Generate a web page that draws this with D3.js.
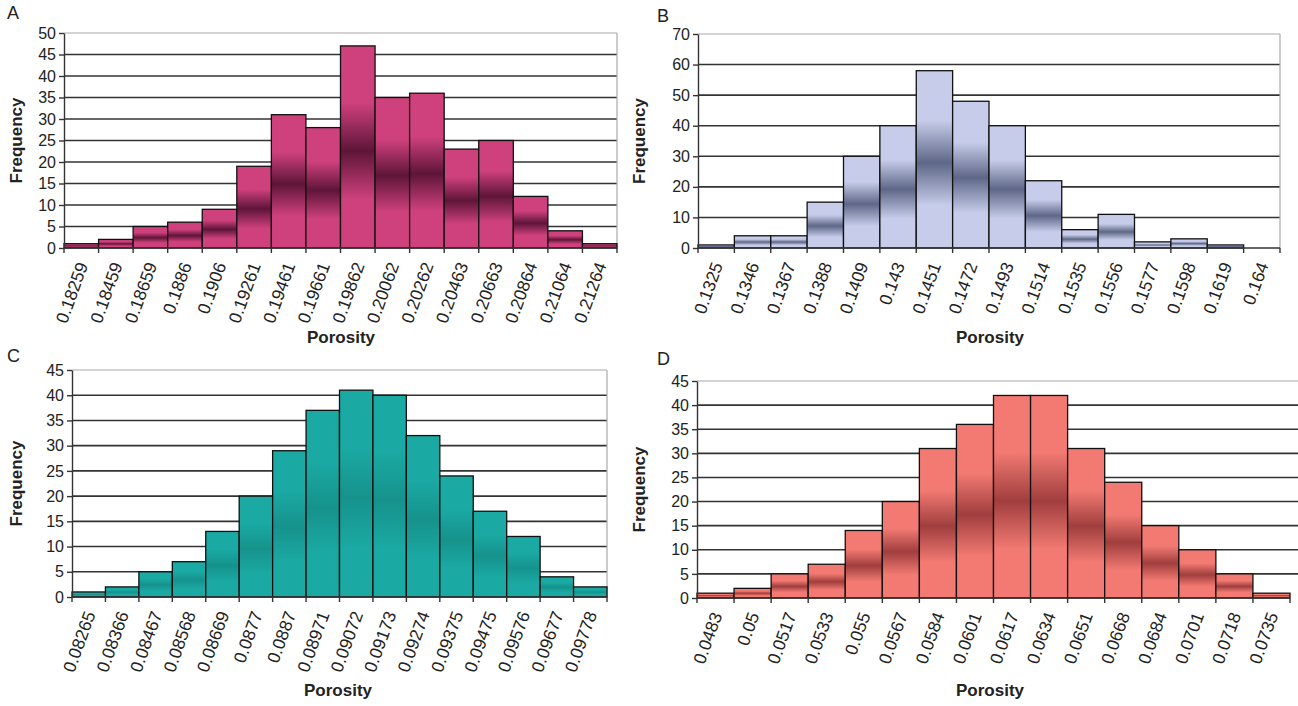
<!doctype html>
<html lang="en">
<head>
  <meta charset="utf-8">
  <title>Porosity histograms</title>
  <style>
    body { margin: 0; background: #fff; }
    svg { display: block; font-family: "Liberation Sans", Arial, sans-serif; }
    .grid line { stroke: #333; stroke-width: 1.6; }
    .grid line.top { stroke: #aaa; stroke-width: 1.2; }
    .axis path, .axis line { stroke: #333; stroke-width: 1.4; }
    .axis text { fill: #222; font-size: 16px; }
    .axis text.xl { font-size: 17.5px; }
    .bar { stroke: #111; stroke-width: 1.3; }
    .title { font-size: 17px; font-weight: bold; fill: #222; }
    .letter { font-size: 18px; fill: #222; }
  </style>
</head>
<body>
  <div id="chart"></div>
  <script src="https://cdn.jsdelivr.net/npm/d3@7"></script>
  <script>
// ---- data ----
var catsA = ["0.18259","0.18459","0.18659","0.1886","0.1906","0.19261","0.19461","0.19661",
             "0.19862","0.20062","0.20262","0.20463","0.20663","0.20864","0.21064","0.21264"];
var valsA = [1, 2, 5, 6, 9, 19, 31, 28, 47, 35, 36, 23, 25, 12, 4, 1];

var catsB = ["0.1325","0.1346","0.1367","0.1388","0.1409","0.143","0.1451","0.1472",
             "0.1493","0.1514","0.1535","0.1556","0.1577","0.1598","0.1619","0.164"];
var valsB = [1, 4, 4, 15, 30, 40, 58, 48, 40, 22, 6, 11, 2, 3, 1, 0];

var catsC = ["0.08265","0.08366","0.08467","0.08568","0.08669","0.0877","0.0887","0.08971",
             "0.09072","0.09173","0.09274","0.09375","0.09475","0.09576","0.09677","0.09778"];
var valsC = [1, 2, 5, 7, 13, 20, 29, 37, 41, 40, 32, 24, 17, 12, 4, 2];

var catsD = ["0.0483","0.05","0.0517","0.0533","0.055","0.0567","0.0584","0.0601",
             "0.0617","0.0634","0.0651","0.0668","0.0684","0.0701","0.0718","0.0735"];
var valsD = [1, 2, 5, 7, 14, 20, 31, 36, 42, 42, 31, 24, 15, 10, 5, 1];

var ticksA = [0, 5, 10, 15, 20, 25, 30, 35, 40, 45, 50];
var ticksB = [0, 10, 20, 30, 40, 50, 60, 70];
var ticksC = [0, 5, 10, 15, 20, 25, 30, 35, 40, 45];
var ticksD = [0, 5, 10, 15, 20, 25, 30, 35, 40, 45];

var width = 1298, height = 706;

var svg = d3.select("#chart").append("svg")
    .attr("width", width)
    .attr("height", height);

var defs = svg.append("defs");

function gradient(id, light, dark) {
  var g = defs.append("linearGradient").attr("id", id)
      .attr("x1", 0).attr("y1", 0).attr("x2", 0).attr("y2", 1);
  g.append("stop").attr("offset", "0%").attr("stop-color", light);
  g.append("stop").attr("offset", "28%").attr("stop-color", light);
  g.append("stop").attr("offset", "52%").attr("stop-color", dark);
  g.append("stop").attr("offset", "76%").attr("stop-color", light);
  g.append("stop").attr("offset", "100%").attr("stop-color", light);
}
gradient("gA", "#cf417d", "#5e1538");
gradient("gB", "#c6cce9", "#5f6788");
gradient("gC", "#1ba9a3", "#16928c");
gradient("gD", "#f27a72", "#a03e3e");

var panels = [
  {letter: "A", cats: catsA, vals: valsA, ticks: ticksA, fill: "url(#gA)",
   left: 64, right: 617, top: 33, bottom: 248, lx: 7, ly: 19, fx: 22, px: 341, py: 343, border: true},
  {letter: "B", cats: catsB, vals: valsB, ticks: ticksB, fill: "url(#gB)",
   left: 698, right: 1280, top: 34, bottom: 248, lx: 657, ly: 22, fx: 645, px: 990, py: 343, border: true},
  {letter: "C", cats: catsC, vals: valsC, ticks: ticksC, fill: "url(#gC)",
   left: 72, right: 607, top: 370, bottom: 597, lx: 7, ly: 362, fx: 22, px: 338, py: 696, border: true},
  {letter: "D", cats: catsD, vals: valsD, ticks: ticksD, fill: "url(#gD)",
   left: 697, right: 1298, top: 381, bottom: 598, lx: 657, ly: 365, fx: 645, px: 990, py: 696, border: false}
];

panels.forEach(function(p) {
  var x = d3.scaleBand().domain(p.cats).range([p.left, p.border ? p.right : 1290]).padding(0);
  var y = d3.scaleLinear().domain([0, d3.max(p.ticks)]).range([p.bottom, p.top]);
  var g = svg.append("g");

  // gridlines
  g.append("g").attr("class", "grid")
    .selectAll("line").data(p.ticks.slice(1)).enter().append("line")
      .attr("class", function(d) { return d === d3.max(p.ticks) ? "top" : null; })
      .attr("x1", p.left).attr("x2", p.right)
      .attr("y1", function(d) { return y(d); })
      .attr("y2", function(d) { return y(d); });

  if (p.border) {
    g.append("line")
      .attr("x1", p.right).attr("x2", p.right)
      .attr("y1", p.top).attr("y2", p.bottom)
      .attr("stroke", "#aaa").attr("stroke-width", 1.2);
  }

  // bars
  g.selectAll("rect.bar").data(p.vals).enter().append("rect")
    .attr("class", "bar")
    .attr("x", function(d, i) { return x(p.cats[i]); })
    .attr("width", x.bandwidth())
    .attr("y", function(d) { return y(d); })
    .attr("height", function(d) { return p.bottom - y(d); })
    .attr("fill", p.fill)
    .style("display", function(d) { return d > 0 ? null : "none"; });

  // y axis
  g.append("g").attr("class", "axis")
    .attr("transform", "translate(" + p.left + ",0)")
    .call(d3.axisLeft(y).tickValues(p.ticks).tickSize(5).tickSizeOuter(0).tickPadding(3));

  // x axis: ticks on category boundaries
  var xa = g.append("g").attr("class", "axis");
  xa.append("line")
    .attr("x1", p.left).attr("x2", x.range()[1])
    .attr("y1", p.bottom).attr("y2", p.bottom);
  var edges = p.cats.map(function(c) { return x(c); }).concat([x.range()[1]]);
  xa.selectAll("line.tk").data(edges).enter().append("line")
    .attr("class", "tk")
    .attr("x1", function(d) { return d; }).attr("x2", function(d) { return d; })
    .attr("y1", p.bottom).attr("y2", p.bottom + 5);
  xa.selectAll("text").data(p.cats).enter().append("text")
    .attr("class", "xl")
    .attr("text-anchor", "end")
    .attr("transform", function(d) {
      return "translate(" + (x(d) + x.bandwidth() / 2 + 7) + "," + (p.bottom + 17) + ") rotate(-70)";
    })
    .text(function(d) { return d; });

  // titles
  g.append("text").attr("class", "title")
    .attr("text-anchor", "middle")
    .attr("transform", "translate(" + p.fx + "," + ((p.top + p.bottom) / 2) + ") rotate(-90)")
    .text("Frequency");
  g.append("text").attr("class", "title")
    .attr("text-anchor", "middle")
    .attr("x", p.px).attr("y", p.py)
    .text("Porosity");
  g.append("text").attr("class", "letter")
    .attr("x", p.lx).attr("y", p.ly)
    .text(p.letter);
});
  </script>
</body>
</html>
